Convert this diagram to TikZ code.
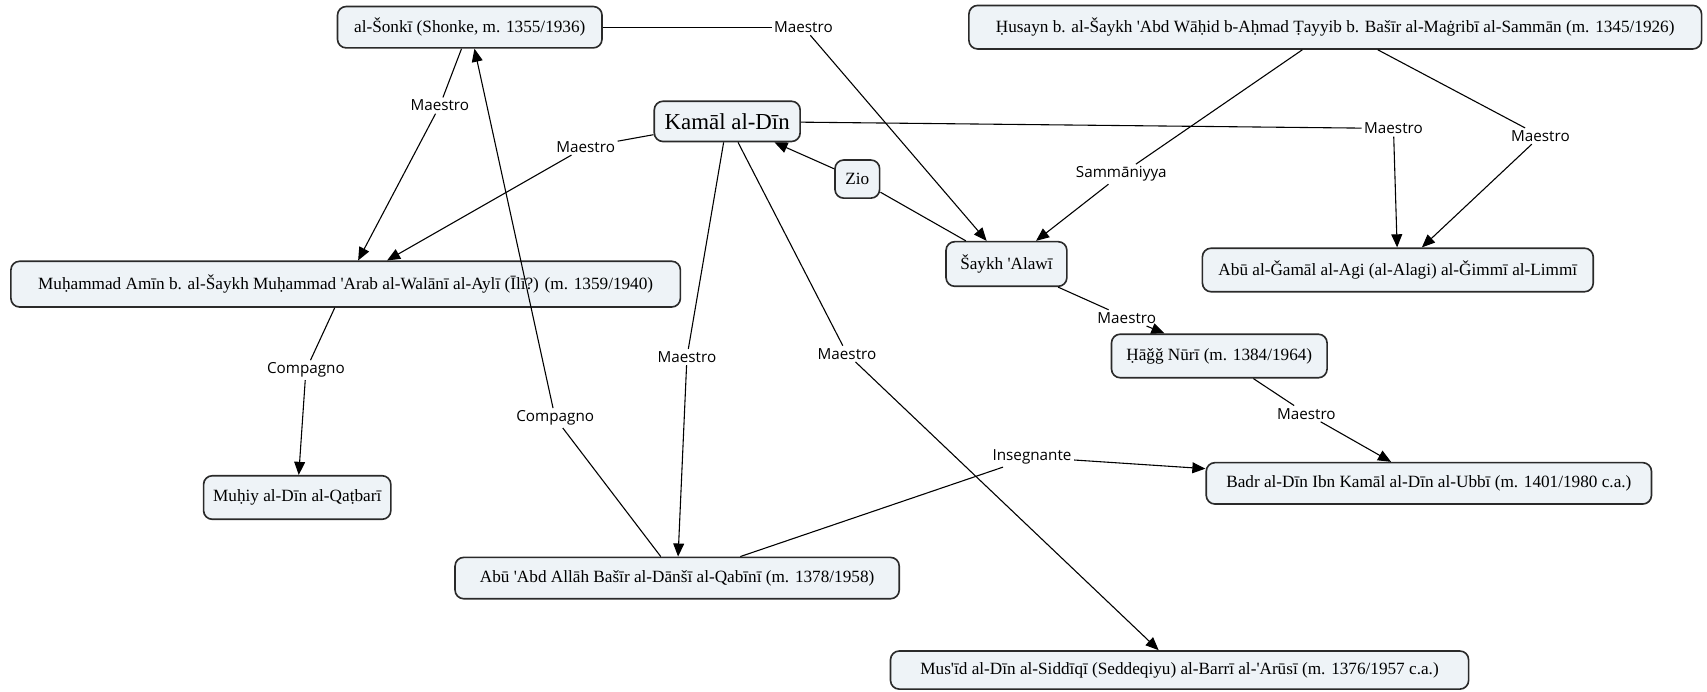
\documentclass[tikz,border=0pt]{standalone}
\usepackage{fontspec}
\setmainfont{Liberation Serif}[Ligatures=TeXOff]
\newfontfamily\labelfont{Open Sans}
\usetikzlibrary{arrows.meta}
\definecolor{boxfill}{HTML}{EEF3F7}
\definecolor{boxdraw}{HTML}{2A2A2A}
\begin{document}
\begin{tikzpicture}[x=0.5pt,y=-0.5pt,
  box/.style={draw=boxdraw, line width=0.75pt, fill=boxfill, rounded corners=4pt,
    font=\fontsize{7.9}{9}\selectfont, inner sep=0pt},
  lab/.style={fill=white, inner sep=1pt, font=\labelfont\fontsize{7}{8}\selectfont},
  conn/.style={draw=black, line width=0.5pt},
  arr/.style={conn, -{Triangle[length=6pt,width=5pt]}},
]
\useasboundingbox (0,0) rectangle (1568,635);
% nodes
\node[box, minimum width=121.5pt, minimum height=19pt] (sonki) at (431.5,25) {al-Šonkī (Shonke, m. 1355/1936)};
\node[box, minimum width=336.5pt, minimum height=20pt] (husayn) at (1226.5,25) {Ḥusayn b. al-Šaykh 'Abd Wāḥid b-Aḥmad Ṭayyib b. Bašīr al-Maġribī al-Sammān (m. 1345/1926)};
\node[box, minimum width=67pt, minimum height=18.5pt, font=\fontsize{10.5}{12}\selectfont] (kamal) at (668,111.5) {Kamāl al-Dīn};
\node[box, minimum width=20.5pt, minimum height=17.5pt] (zio) at (787.5,164.5) {Zio};
\node[box, minimum width=55.5pt, minimum height=20.5pt] (alawi) at (924.5,242.5) {Šaykh 'Alawī};
\node[box, minimum width=179.5pt, minimum height=20pt] (gamal) at (1284,248) {Abū al-Ǧamāl al-Agi (al-Alagi) al-Ǧimmī al-Limmī};
\node[box, minimum width=307.5pt, minimum height=21pt] (amin) at (317.5,261) {Muḥammad Amīn b. al-Šaykh Muḥammad 'Arab al-Walānī al-Aylī (Īlī?) (m. 1359/1940)};
\node[box, minimum width=86pt, minimum height=20pt] (muhiy) at (273,457) {Muḥiy al-Dīn al-Qaṭbarī};
\node[box, minimum width=204pt, minimum height=19pt] (abdallah) at (622,531) {Abū 'Abd Allāh Bašīr al-Dānšī al-Qabīnī (m. 1378/1958)};
\node[box, minimum width=99pt, minimum height=20pt] (hagg) at (1120,327) {Ḥāǧǧ Nūrī (m. 1384/1964)};
\node[box, minimum width=204.5pt, minimum height=19pt] (badr) at (1312.5,444) {Badr al-Dīn Ibn Kamāl al-Dīn al-Ubbī (m. 1401/1980 c.a.)};
\node[box, minimum width=265.5pt, minimum height=17.5pt] (musid) at (1083.5,615.5) {Mus'īd al-Dīn al-Siddīqī (Seddeqiyu) al-Barrī al-'Arūsī (m. 1376/1957 c.a.)};
% labels
\node[lab] (l1) at (738,25) {Maestro};
\node[lab] (l2) at (1030,160) {Sammāniyya};
\node[lab] (l3) at (1415,125) {Maestro};
\node[lab] (l4) at (1280,118) {Maestro};
\node[lab] (l5) at (538,135) {Maestro};
\node[lab] (l6) at (404,97) {Maestro};
\node[lab] (l8) at (281,340) {Compagno};
\node[lab] (l9) at (510,384) {Compagno};
\node[lab] (l10) at (631,328) {Maestro};
\node[lab] (l11) at (778,325) {Maestro};
\node[lab] (l12) at (948,420) {Insegnante};
\node[lab] (l13) at (1035,292) {Maestro};
\node[lab] (l14) at (1200,380) {Maestro};
% connectors
\draw[conn] (sonki) -- (l1); \draw[arr] (l1) -- (alawi);
\draw[conn] (husayn) -- (l2); \draw[arr] (l2) -- (alawi);
\draw[conn] (husayn) -- (l3); \draw[arr] (l3) -- (gamal);
\draw[conn] (kamal) -- (l4); \draw[arr] (l4) -- (gamal);
\draw[conn] (kamal) -- (l5); \draw[arr] (l5) -- (amin);
\draw[conn] (sonki) -- (l6); \draw[arr] (l6) -- (amin);
\draw[conn] (alawi) -- (zio); \draw[arr] (zio) -- (kamal);
\draw[conn] (amin) -- (l8); \draw[arr] (l8) -- (muhiy);
\draw[conn] (abdallah) -- (l9); \draw[arr] (l9) -- (sonki);
\draw[conn] (kamal) -- (l10); \draw[arr] (l10) -- (abdallah);
\draw[conn] (kamal) -- (l11); \draw[arr] (l11) -- (musid);
\draw[conn] (abdallah) -- (l12); \draw[arr] (l12) -- (badr);
\draw[conn] (alawi) -- (l13); \draw[arr] (l13) -- (hagg);
\draw[conn] (hagg) -- (l14); \draw[arr] (l14) -- (badr);
\end{tikzpicture}
\end{document}
